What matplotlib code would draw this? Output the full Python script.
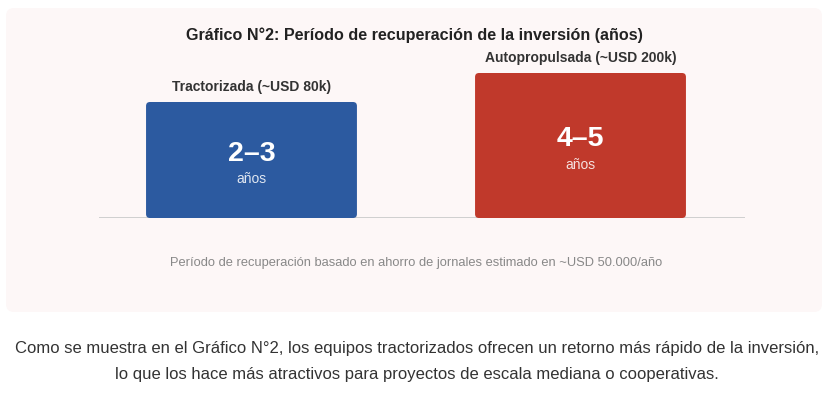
import matplotlib.pyplot as plt
from matplotlib.patches import FancyBboxPatch

plt.rcParams['font.family'] = ['Liberation Sans', 'DejaVu Sans']

# Data
categorias = ["Tractorizada (~USD 80k)", "Autopropulsada (~USD 200k)"]
rangos     = ["2–3", "4–5"]
alturas    = [80, 100]          # relative bar height (%)
colores    = ["#2c5aa0", "#c0392b"]

titulo  = "Gráfico N°2: Período de recuperación de la inversión (años)"
nota    = "Período de recuperación basado en ahorro de jornales estimado en ~USD 50.000/año"
parrafo = ["Como se muestra en el Gráfico N°2, los equipos tractorizados ofrecen un retorno más rápido de la inversión,",
           "lo que los hace más atractivos para proyectos de escala mediana o cooperativas."]

W, H = 829, 393
fig = plt.figure(figsize=(W/100, H/100), dpi=100)
fig.patch.set_facecolor("white")

# background panel
bg = fig.add_axes([0, 0, 1, 1]); bg.set_xlim(0, W); bg.set_ylim(H, 0); bg.axis("off")
bg.add_patch(FancyBboxPatch((6, 8), 816, 304, boxstyle="round,pad=0,rounding_size=8",
                            fc="#fdf7f7", ec="none"))
bg.text(414, 35, titulo, ha="center", va="center", fontsize=11.6, fontweight="bold", color="#222")
bg.text(416, 263, nota, ha="center", va="center", fontsize=9.25, color="#888888")
for i, line in enumerate(parrafo):
    bg.text(417, 348 + 27*i, line, ha="center", va="center", fontsize=12, color="#333333")

# bar axes: baseline at y=218 px, full height 145 px
ax = fig.add_axes([99/W, (H-218)/H, 646/W, 145/H])
ax.set_xlim(-0.4635, 1.5); ax.set_ylim(0, 100)
ax.axis("off")
ax.axhline(0, color="#cccccc", lw=1.3, zorder=1)

bars = ax.bar(range(len(alturas)), alturas, width=0.641)
asp = 329/1.45
for b, c, cat, r in zip(bars, colores, categorias, rangos):
    b.set_visible(False)
    x0, w, h = b.get_x(), b.get_width(), b.get_height()
    ax.add_patch(FancyBboxPatch((x0, 0), w, h, boxstyle="round,pad=0,rounding_size=0.012",
                                mutation_aspect=asp, fc=c, ec="none", zorder=2))
    xc = x0 + w/2
    ax.text(xc, h + 10.3, cat, ha="center", va="center", fontsize=10, fontweight="bold",
            color="#333333", clip_on=False)
    ax.text(xc, h/2 + 4.3, r, ha="center", va="center", fontsize=20.5, fontweight="heavy",
            color="white", zorder=3)
    ax.text(xc, h/2 - 13.2, "años", ha="center", va="center", fontsize=10,
            color="white", alpha=0.85, zorder=3)

fig.savefig("out.png", dpi=100)
